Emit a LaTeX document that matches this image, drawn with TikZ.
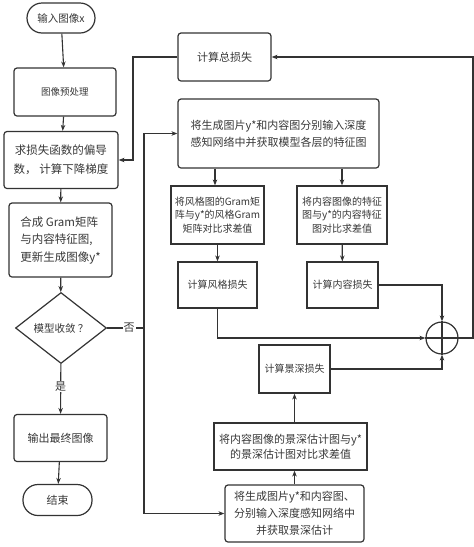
\documentclass[tikz,border=0pt]{standalone}
\usepackage{fontspec}
\setmainfont{Noto Sans CJK SC}
\usetikzlibrary{shapes.geometric,arrows.meta}
\definecolor{linec}{HTML}{333333}
\definecolor{txt}{HTML}{383838}
\begin{document}
\begin{tikzpicture}[x=1pt,y=-1pt,
  box/.style={draw=linec, line width=1.2pt, text=txt, align=center, inner sep=2pt, fill=white},
  rbox/.style={box, rounded corners=3pt},
  pill/.style={box, rounded corners=15pt},
  arr/.style={-{Stealth[length=6pt,width=4.5pt]}, draw=linec, line width=1.1pt},
  ln/.style={draw=linec, line width=1.1pt},
  lbl/.style={text=txt, fill=white, inner sep=1pt, font=\fontsize{11}{13}\selectfont}
]
\useasboundingbox (0,0) rectangle (474,547);

% left column
\node[pill, minimum width=68pt, minimum height=30pt, font=\fontsize{10.5}{13}\selectfont] (start) at (61,18) {输入图像x};
\node[rbox, minimum width=102pt, minimum height=48pt, font=\fontsize{9.5}{12}\selectfont] (pre) at (65,92) {图像预处理};
\node[rbox, minimum width=114pt, minimum height=57pt, font=\fontsize{11.5}{19}\selectfont] (grad) at (61,160) {求损失函数的偏导\\数， 计算下降梯度};
\node[rbox, minimum width=103pt, minimum height=74pt, align=left, font=\fontsize{11.5}{17.5}\selectfont] (synth) at (60.5,240) {合成 Gram矩阵\\与内容特征图,\\更新生成图像y*};
\node[box, shape=diamond, minimum width=91pt, minimum height=71pt, inner sep=0pt, font=\fontsize{10.5}{13}\selectfont] (dia) at (61,328) {模型收敛 ？};
\node[rbox, minimum width=93pt, minimum height=47pt, font=\fontsize{11}{13}\selectfont] (out) at (60.5,438) {输出最终图像};
\node[pill, minimum width=69pt, minimum height=31pt, font=\fontsize{11}{13}\selectfont] (end) at (57.5,500) {结束};

% right part
\node[rbox, minimum width=93pt, minimum height=48pt, font=\fontsize{11}{13}\selectfont] (total) at (224.5,57) {计算总损失};
\node[rbox, minimum width=201pt, minimum height=69pt, font=\fontsize{11}{17}\selectfont] (big) at (278.5,133.5) {将生成图片y*和内容图分别输入深度\\感知网络中并获取模型各层的特征图};
\node[box, minimum width=93pt, minimum height=58pt, font=\fontsize{10}{13.3}\selectfont] (style) at (217.5,215) {将风格图的Gram矩\\阵与y*的风格Gram\\矩阵对比求差值};
\node[box, minimum width=90pt, minimum height=58pt, font=\fontsize{10}{13.3}\selectfont] (content) at (342,215) {将内容图像的特征\\图与y*的内容特征\\图对比求差值};
\node[box, minimum width=79pt, minimum height=46pt, font=\fontsize{10}{13}\selectfont] (sloss) at (217.5,285) {计算风格损失};
\node[box, minimum width=71pt, minimum height=46pt, font=\fontsize{10}{13}\selectfont] (closs) at (342.5,285) {计算内容损失};
\node[draw=linec, line width=1.2pt, circle, minimum size=32pt, inner sep=0pt] (sum) at (442,338) {};
\node[box, minimum width=71pt, minimum height=48pt, font=\fontsize{10}{13}\selectfont] (dloss) at (294.5,369) {计算景深损失};
\node[box, minimum width=153pt, minimum height=47pt, font=\fontsize{11}{15}\selectfont] (ddiff) at (290.5,446.5) {将内容图像的景深估计图与y*\\的景深估计图对比求差值};
\node[rbox, minimum width=139pt, minimum height=57pt, font=\fontsize{11}{16.7}\selectfont] (dbox) at (294.5,513.5) {将生成图片y*和内容图、\\分别输入深度感知网络中\\并获取景深估计};

\draw[ln] (sum.north) -- (sum.south) (sum.west) -- (sum.east);

% left column connectors
\draw[arr] (start) -- (pre);
\draw[arr] (pre) -- (grad);
\draw[arr] (grad) -- (synth);
\draw[arr] (synth) -- (dia);
\draw[arr] (dia) -- node[lbl, pos=0.45] (yes) {是} (out);
\draw[arr] (out) -- (end);

% no branch
\coordinate (j) at (144,328);
\draw[ln] (dia.east) -- node[lbl, pos=0.6] (no) {否} (j);
\draw[arr] (j) |- (big.west);
\draw[arr] (j) |- (dbox.west);

% total loss feedback
\coordinate (c1) at (133,57);
\draw[arr] (total.west) -- (c1) |- (grad.east);
\coordinate (c2) at (473,338);
\draw[arr] (sum.east) -- (c2) |- (total.east);

% feature branches
\draw[arr] ([xshift=-2.5pt]style.north |- big.south) -- ([xshift=-2.5pt]style.north);
\draw[arr] (content.north |- big.south) -- (content.north);
\draw[arr] (style) -- (sloss);
\draw[arr] (content) -- (closs);
\draw[arr] (sloss.south) |- (sum.west);
\draw[arr] (closs.east) -| (sum.north);
\draw[arr] (dloss.east) -| (sum.south);

% depth branch
\draw[arr] (dbox.north) -- (dbox.north |- ddiff.south);
\draw[arr] (dbox.north |- ddiff.north) -- (dloss.south);
\end{tikzpicture}
\end{document}
